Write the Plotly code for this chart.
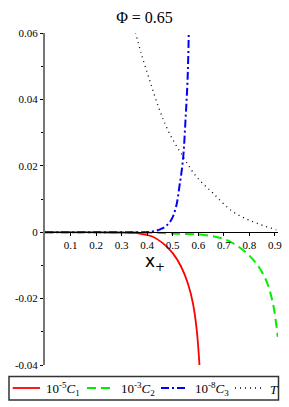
import plotly.graph_objects as go

# Data
c1_x = [0.0, 0.1, 0.2, 0.3, 0.37, 0.42, 0.461, 0.50, 0.533, 0.559, 0.579, 0.594, 0.605]
c1_y = [0.0, 0.0, 0.0, -0.0001, -0.0004, -0.0013, -0.0033, -0.0063, -0.0104, -0.0154, -0.0214, -0.0295, -0.0405]

c2_x = [0.0, 0.2, 0.4, 0.526, 0.631, 0.709, 0.774, 0.826, 0.865, 0.892, 0.911]
c2_y = [0.0, 0.0, -0.0001, -0.0005, -0.0009, -0.0023, -0.0053, -0.0093, -0.0144, -0.0214, -0.0315]

c3_x = [0.0, 0.2, 0.35, 0.409, 0.461, 0.494, 0.513, 0.526, 0.540, 0.550, 0.558, 0.563]
c3_y = [0.0, 0.0, 0.0, 0.0001, 0.0012, 0.0037, 0.0077, 0.0137, 0.0218, 0.0339, 0.0459, 0.061]

t_x = [0.354, 0.376, 0.409, 0.448, 0.487, 0.540, 0.592, 0.657, 0.735, 0.813, 0.905]
t_y = [0.0602, 0.054, 0.0459, 0.0369, 0.0298, 0.0228, 0.0168, 0.0118, 0.0062, 0.0032, 0.0007]

x_ticks = [0.1, 0.2, 0.3, 0.4, 0.5, 0.6, 0.7, 0.8, 0.9]
x_ticklabels = ["0.1", "0.2", "0.3", "0.4", "0.5", "0.6", "0.7", "0.8", "0.9"]
y_ticks = [0.06, 0.04, 0.02, 0.0, -0.02, -0.04]
y_ticklabels = ["0.06", "0.04", "0.02", "0", "-0.02", "-0.04"]

names = ["10<sup>-5</sup><i>C</i><sub>1</sub>", "10<sup>-3</sup><i>C</i><sub>2</sub>",
         "10<sup>-8</sup><i>C</i><sub>3</sub>", "<i>T</i>"]
colors = ["#ff0000", "#00ee00", "#0000ff", "#000000"]
dashes = ["solid", "9px,5px", "8px,3px,2px,3px", "1px,4px"]
widths = [1.8, 2, 2, 1.3]

serif = "Liberation Serif, Times New Roman, serif"

W, H = 289, 407
L, R, T, B = 45, 11, 33, 42
PW, PH = W - L - R, H - T - B

def px(xp):
    return (xp - L) / PW

def py(yp):
    return (H - B - yp) / PH

fig = go.Figure()
for xs, ys, nm, c, d, w in zip([c1_x, c2_x, c3_x, t_x], [c1_y, c2_y, c3_y, t_y],
                               names, colors, dashes, widths):
    fig.add_trace(go.Scatter(x=xs, y=ys, mode="lines", name=nm, line_shape="spline",
                             line=dict(color=c, width=w, dash=d), showlegend=False))

fig.update_layout(
    width=W, height=H,
    margin=dict(l=L, r=R, t=T, b=B),
    plot_bgcolor="white", paper_bgcolor="white",
    font=dict(family=serif, size=11, color="black"),
    title=dict(text="Φ = 0.65", x=0.5, xref="container", xanchor="center",
               y=1 - 17 / H, yref="container", yanchor="middle",
               font=dict(family=serif, size=16, color="black")),
    showlegend=False,
    xaxis=dict(range=[0, 0.912], anchor="free", position=0.4, showgrid=False, zeroline=False,
               showline=True, linecolor="black", linewidth=1, automargin=False,
               tickvals=x_ticks, ticktext=x_ticklabels, ticks="outside", ticklen=3,
               tickcolor="black", tickfont=dict(family=serif, size=11)),
    yaxis=dict(range=[-0.04, 0.06], domain=[0, 1], showgrid=False, zeroline=False,
               showline=True, linecolor="#777777", linewidth=2, automargin=False,
               tickvals=y_ticks, ticktext=y_ticklabels, ticks="outside", ticklen=3,
               tickcolor="black", tickfont=dict(family=serif, size=11),
               minor=dict(tickvals=[0.05, 0.03, 0.01, -0.01, -0.03], ticks="outside",
                          ticklen=2, tickcolor="black")),
)

fig.add_annotation(x=0.43, y=-0.0092, xref="x", yref="y", showarrow=False,
                   text="x<sub>+</sub>", font=dict(family="DejaVu Sans", size=17, color="black"))

# Manual legend box
fig.add_shape(type="rect", xref="paper", yref="paper", x0=px(9), x1=px(278.5), y0=py(400), y1=py(376.5),
              line=dict(color="#333333", width=1.5), fillcolor="white")
ly = 388
seg = [(12.7, 40), (87, 115), (161, 188), (235, 263)]
txt_x = [44, 119, 193, 268]
for (a, b), tx, nm, c, d, w in zip(seg, txt_x, names, colors, dashes, widths):
    fig.add_shape(type="line", xref="paper", yref="paper", x0=px(a), x1=px(b), y0=py(ly), y1=py(ly),
                  line=dict(color=c, width=w, dash=d))
    fig.add_annotation(x=px(tx), y=py(ly + 1), xref="paper", yref="paper", xanchor="left",
                       yanchor="middle", showarrow=False, text=nm,
                       font=dict(family=serif, size=13, color="black"))

fig.write_html("out.html", config={"displayModeBar": False})

with open("out.html", "r", encoding="utf-8") as f:
    html = f.read()
html = html.replace("<head>", "<head><style>html,body{margin:0;padding:0;overflow:hidden;}</style>", 1)
with open("out.html", "w", encoding="utf-8") as f:
    f.write(html)
